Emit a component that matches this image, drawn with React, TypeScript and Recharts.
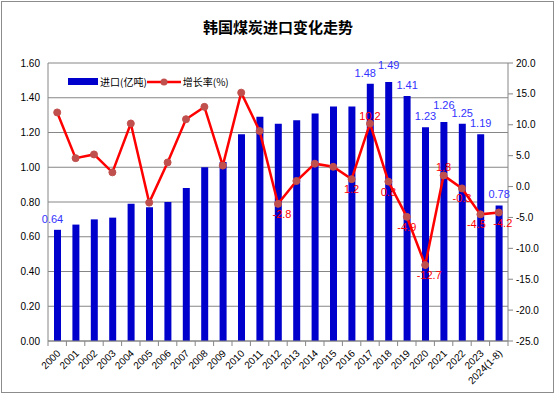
import {
  ComposedChart,
  Bar,
  Line,
  XAxis,
  YAxis,
  CartesianGrid,
  Legend,
  LabelList
} from "recharts";

// 韩国煤炭进口 (亿吨) and 增长率 (%)
const years = [
  "2000", "2001", "2002", "2003", "2004", "2005", "2006", "2007", "2008",
  "2009", "2010", "2011", "2012", "2013", "2014", "2015", "2016", "2017",
  "2018", "2019", "2020", "2021", "2022", "2023", "2024(1-8)"
];
const imports = [
  0.64, 0.67, 0.70, 0.71, 0.79, 0.77, 0.80, 0.88, 1.00, 1.03, 1.19, 1.29,
  1.25, 1.27, 1.31, 1.35, 1.35, 1.48, 1.49, 1.41, 1.23, 1.26, 1.25, 1.19, 0.78
];
const growth = [
  12.0, 4.6, 5.2, 2.3, 10.2, -2.6, 3.9, 10.9, 12.9, 3.4, 15.2, 9.0,
  -2.8, 0.9, 3.7, 3.2, 1.2, 10.2, 0.8, -4.9, -12.7, 1.8, -0.3, -4.5, -4.2
];

// which points carry a data label
const importLabelYears = [
  "2000", "2017", "2018", "2019", "2020", "2021", "2022", "2023", "2024(1-8)"
];
const growthLabelYears = [
  "2012", "2016", "2017", "2018", "2019", "2020", "2021", "2022", "2023", "2024(1-8)"
];
// labels nudged so neighbours don't collide (as in the original)
const importLabelRaised = ["2018", "2021"];
const importLabelLeft = ["2017", "2000"];
const growthLabelAbove = ["2017", "2021"];
const growthLabelLeft = ["2023"];
const growthLabelRight = ["2012", "2020", "2024(1-8)"];

const leftTicks = [0, 0.2, 0.4, 0.6, 0.8, 1.0, 1.2, 1.4, 1.6];
const rightTicks = [-25, -20, -15, -10, -5, 0, 5, 10, 15, 20];

const data = years.map((year, i) => ({
  year,
  imports: imports[i],
  growth: growth[i],
  importLabel: importLabelYears.includes(year) ? imports[i].toFixed(2) : "",
  growthLabel: growthLabelYears.includes(year) ? growth[i].toFixed(1) : ""
}));

const FONT = "'Liberation Sans', Arial, sans-serif";
const CJK = "'Noto Sans CJK SC', sans-serif";
const GRID = "#868686";
const BAND = 460 / years.length;

const ImportLabel = (props: any) => {
  const { x, y, width, value, index } = props;
  if (!value) return null;
  const yr = years[index];
  const dy = importLabelRaised.includes(yr) ? -13 : -7;
  const dx = importLabelLeft.includes(yr) ? -5 : 0;
  return (
    <text
      x={x + width / 2 + dx}
      y={y + dy}
      textAnchor="middle"
      fill="#3333FF"
      fontSize={11}
      fontFamily={FONT}
    >
      {value}
    </text>
  );
};

const GrowthLabel = (props: any) => {
  const { x, y, value, index } = props;
  if (!value) return null;
  const yr = years[index];
  const above = growthLabelAbove.includes(yr);
  let dx = 0;
  if (growthLabelLeft.includes(yr)) dx = -4;
  if (growthLabelRight.includes(yr)) dx = 4;
  return (
    <text
      x={x + dx}
      y={above ? y - 4 : y + 14}
      textAnchor="middle"
      fill="#FF0000"
      fontSize={11}
      fontFamily={FONT}
    >
      {value}
    </text>
  );
};

const YearTick = (props: any) => {
  const { x, y, payload, index } = props;
  const axisY = y - 2;
  return (
    <g>
      <line x1={x - BAND / 2} y1={axisY} x2={x - BAND / 2} y2={axisY + 5} stroke={GRID} />
      {index === years.length - 1 && (
        <line x1={x + BAND / 2} y1={axisY} x2={x + BAND / 2} y2={axisY + 5} stroke={GRID} />
      )}
      <text
        x={x + 4}
        y={axisY + 13}
        transform={`rotate(-45, ${x + 4}, ${axisY + 13})`}
        textAnchor="end"
        fontSize={10}
        fontFamily={FONT}
        fill="#000"
      >
        {payload.value}
      </text>
    </g>
  );
};

const renderLegend = () => (
  <div
    style={{
      display: "flex",
      alignItems: "center",
      fontSize: 10,
      fontFamily: CJK,
      color: "#000",
      whiteSpace: "nowrap"
    }}
  >
    <svg width={30} height={8}>
      <rect x={0} y={0} width={30} height={7} fill="#0000CC" />
    </svg>
    <span style={{ marginLeft: 2 }}>进口(亿吨)</span>
    <svg width={34} height={10}>
      <line x1={0} y1={5} x2={34} y2={5} stroke="#FF0000" strokeWidth={2.5} />
      <circle cx={17} cy={5} r={3.5} fill="#C0504D" />
    </svg>
    <span style={{ marginLeft: 2 }}>增长率(%)</span>
  </div>
);

function App() {
  return (
    <div style={{ position: "absolute", left: 0, top: 0, width: 556, height: 396, background: "#fff" }}>
      <div
        style={{
          position: "absolute",
          left: 1,
          top: 1,
          width: 553,
          height: 392,
          border: "1px solid #8c8c8c",
          boxSizing: "border-box"
        }}
      />
      <div
        style={{
          position: "absolute",
          left: 0,
          top: 17,
          width: 556,
          textAlign: "center",
          fontFamily: CJK,
          fontWeight: "bold",
          fontSize: 15,
          lineHeight: "20px",
          color: "#000"
        }}
      >
        韩国煤炭进口变化走势
      </div>
      <div style={{ position: "absolute", left: 0, top: 0 }}>
        <ComposedChart
          width={556}
          height={396}
          data={data}
          margin={{ top: 63, right: 8, bottom: 10, left: 8 }}
        >
          <CartesianGrid yAxisId="left" vertical={false} stroke={GRID} />
          <XAxis
            dataKey="year"
            interval={0}
            height={45}
            tickLine={false}
            axisLine={{ stroke: GRID }}
            tickSize={0}
            tickMargin={2}
            tick={<YearTick />}
          />
          <YAxis
            yAxisId="left"
            width={40}
            domain={[0, 1.6]}
            ticks={leftTicks}
            tickFormatter={(v: number) => v.toFixed(2)}
            axisLine={{ stroke: GRID }}
            tickLine={false}
            tickSize={0}
            tickMargin={8}
            tick={{ fontSize: 10, fill: "#000", fontFamily: FONT }}
          />
          <YAxis
            yAxisId="right"
            orientation="right"
            width={40}
            domain={[-25, 20]}
            ticks={rightTicks}
            tickFormatter={(v: number) => v.toFixed(1)}
            axisLine={{ stroke: GRID }}
            tickLine={{ stroke: GRID }}
            tickSize={5}
            tickMargin={3}
            tick={{ fontSize: 10, fill: "#000", fontFamily: FONT }}
          />
          <Legend
            content={renderLegend}
            align="center"
            verticalAlign="middle"
            wrapperStyle={{ left: 68, top: 74, width: "auto" }}
          />
          <Bar
            yAxisId="left"
            dataKey="imports"
            fill="#0000CC"
            barSize={7}
            isAnimationActive={false}
          >
            <LabelList dataKey="importLabel" content={<ImportLabel />} />
          </Bar>
          <Line
            yAxisId="right"
            dataKey="growth"
            type="linear"
            stroke="#FF0000"
            strokeWidth={2.5}
            dot={{ r: 3.5, fill: "#C0504D", stroke: "#C0504D", strokeWidth: 1 }}
            activeDot={false}
            isAnimationActive={false}
          >
            <LabelList dataKey="growthLabel" content={<GrowthLabel />} />
          </Line>
        </ComposedChart>
      </div>
    </div>
  );
}

export default App;
